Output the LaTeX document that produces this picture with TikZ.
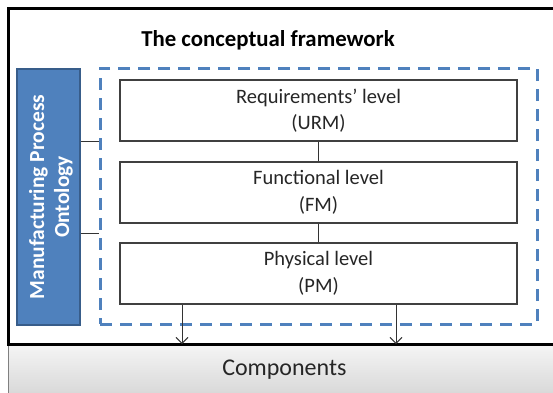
\documentclass[tikz,border=0pt]{standalone}
\usepackage{fontspec}
\setmainfont{Carlito}
\usepackage{tikz}
\usetikzlibrary{positioning,arrows.meta,calc,shapes}
\definecolor{ontoblue}{HTML}{4F81BD}
\definecolor{ontoedge}{HTML}{385D8A}
\definecolor{boxedge}{HTML}{404040}

\begin{document}
\begin{tikzpicture}[x=1pt,y=-1pt,
  levelbox/.style={rectangle,draw=boxedge,line width=1.1pt,fill=white,minimum width=397pt,minimum height=61pt,
    align=center,text=black!85,font=\fontsize{20.5}{26.5}\selectfont},
  ontobox/.style={rectangle,draw=ontoedge,line width=2pt,fill=ontoblue,minimum width=256pt,minimum height=63pt,
    align=center,text=white,font=\fontsize{21.5}{25}\selectfont\bfseries,rotate=90},
  dashbox/.style={rectangle,draw=ontoblue,line width=3pt,dash pattern=on 12pt off 8pt,minimum width=437pt,minimum height=256pt},
  link/.style={draw=black!80,line width=0.9pt},
  down/.style={link,-{Straight Barb[length=6pt,width=12pt]}}]
  \useasboundingbox (0,0) rectangle (553,392);
  \clip (0,0) rectangle (553,392);
  \node[rectangle,draw=gray,line width=0.8pt,top color=gray!8,bottom color=gray!35,
    minimum width=552pt,minimum height=60pt,anchor=north west,font=\fontsize{24}{28}\selectfont,
    text=black!85,text depth=14pt] (comp) at (8,344) {Components};
  \draw[line width=3pt] (8,345.5) -- (8,8) -- (570,8);
  \draw[line width=3pt] (8,344) -- (570,344);
  \node[font=\fontsize{22.8}{27}\selectfont\bfseries] (title) at (268,40) {The conceptual framework};
  \node[dashbox] (scope) at (318.5,196) {};
  \node[ontobox] (onto) at (48.5,197) {};
  \node[rotate=90,align=center,text=white,font=\fontsize{21.5}{25}\selectfont\bfseries] (ontotext) at (51,197)
    {Manufacturing Process\\Ontology};
  \node[levelbox] (req) at (318.5,110.5) {Requirements’ level\\(URM)};
  \node[levelbox] (fun) at (318.5,192.5) {Functional level\\(FM)};
  \node[levelbox] (phy) at (318.5,273.5) {Physical level\\(PM)};
  \draw[link] (req) -- (fun);
  \draw[link] (fun) -- (phy);
  \draw[link] (onto.south |- req.south) -- (scope.west |- req.south);
  \draw[link] (onto.south |- 0,233) -- (scope.west |- 0,233);
  \draw[down] (phy.south -| 182,0) -- (182,344);
  \draw[down] (phy.south -| 396,0) -- (396,344);
\end{tikzpicture}
\end{document}
